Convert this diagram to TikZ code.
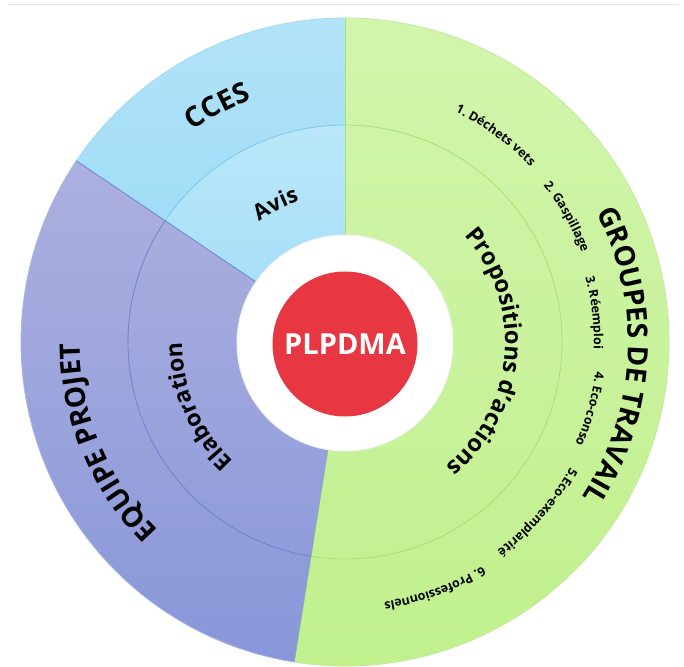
\documentclass[tikz,border=0pt]{standalone}
\usepackage{fontspec}
\setmainfont{Open Sans}
\usetikzlibrary{decorations.text}
\definecolor{gtop}{RGB}{210,245,172}
\definecolor{gbot}{RGB}{192,240,140}
\definecolor{gline}{RGB}{170,225,112}
\definecolor{btop}{RGB}{178,227,248}
\definecolor{bbot}{RGB}{150,217,246}
\definecolor{bitop}{RGB}{186,231,249}
\definecolor{bibot}{RGB}{160,221,247}
\definecolor{bline}{RGB}{118,202,240}
\definecolor{ptop}{RGB}{172,176,223}
\definecolor{pbot}{RGB}{136,151,217}
\definecolor{pline}{RGB}{108,131,208}
\definecolor{plred}{RGB}{230,55,67}
\newcommand\arclabel[5]{%
  \path[decorate, decoration={text along path, text align=center, text={|#4|#5}}]
    ({#1+#2}:#3) arc[start angle={#1+#2}, end angle={#1-#2}, radius=#3];}
\newcommand\bigfont{\bfseries\fontsize{28}{28}\selectfont}
\newcommand\midfont{\bfseries\fontsize{22}{22}\selectfont}
\newcommand\itemfont{\bfseries\fontsize{12.5}{12.5}\selectfont}
\tikzset{
  ringline/.style={line width=0.8pt},
}
\begin{document}
\begin{tikzpicture}[x=1pt,y=1pt]
\useasboundingbox (-345,-324) rectangle (339,342);
\fill[white] (-345,-324) rectangle (339,342);
\draw[black!10, line width=1pt] (-337,337) -- (334,337);
% sectors
\shade[top color=gtop, bottom color=gbot] (0,0) -- (-99:324) arc[start angle=-99,end angle=90,radius=324] -- cycle;
\shade[top color=btop, bottom color=bbot] (0,0) -- (90:324) arc[start angle=90,end angle=146,radius=324] -- cycle;
\shade[top color=bitop, bottom color=bibot] (0,0) -- (90:217) arc[start angle=90,end angle=146,radius=217] -- cycle;
\shade[top color=ptop, bottom color=pbot] (0,0) -- (146:324) arc[start angle=146,end angle=261,radius=324] -- cycle;
% ring lines
\draw[ringline, gline] (-99:217) arc[start angle=-99,end angle=90,radius=217];
\draw[ringline, bline] (90:217) arc[start angle=90,end angle=146,radius=217];
\draw[ringline, pline] (146:217) arc[start angle=146,end angle=261,radius=217];
\draw[ringline, gline!70] (-99:324) arc[start angle=-99,end angle=90,radius=324];
\draw[ringline, bline!70] (90:324) arc[start angle=90,end angle=146,radius=324];
\draw[ringline, pline!60] (146:324) arc[start angle=146,end angle=261,radius=324];
\draw[ringline, gline] (0,0) -- (90:324);
\draw[ringline, pline] (0,0) -- (146:324);
\draw[line width=0.5pt, pline!60!gline] (0,0) -- (261:324);
% hub
\node[circle, fill=white, draw=black!6, line width=1pt, minimum size=216pt, inner sep=0pt] (hub) at (0,-1) {};
\node[circle, fill=plred, minimum size=145pt, inner sep=0pt, text=white,
      font=\bfseries\fontsize{29}{29}\selectfont] (core) at (0,-2) {PLPDMA};
% labels
\arclabel{118.4}{30}{260}{\bigfont}{CCES}
\arclabel{116.7}{40}{148}{\midfont}{Avis}
\arclabel{202.8}{40}{265}{\bigfont}{EQUIPE PROJET}
\arclabel{203.5}{50}{163}{\bfseries\fontsize{23}{23}\selectfont}{Elaboration}
\arclabel{-3}{45}{283}{\bigfont}{GROUPES DE TRAVAIL}
\arclabel{-4.5}{60}{160}{\bfseries\fontsize{23.5}{23.5}\selectfont}{Propositions d’actions}
\arclabel{53.9}{15}{255}{\itemfont}{1. Déchets vets}
\arclabel{29.5}{15}{253}{\itemfont}{2. Gaspillage}
\arclabel{6.7}{15}{249}{\itemfont}{3. Réemploi}
\arclabel{-15.3}{15}{252}{\itemfont}{4. Eco-conso}
\arclabel{-41.5}{20}{258}{\itemfont}{5.Eco-exemplarité}
\arclabel{-70}{20}{263}{\itemfont}{6. Professionnels}
\end{tikzpicture}
\end{document}
